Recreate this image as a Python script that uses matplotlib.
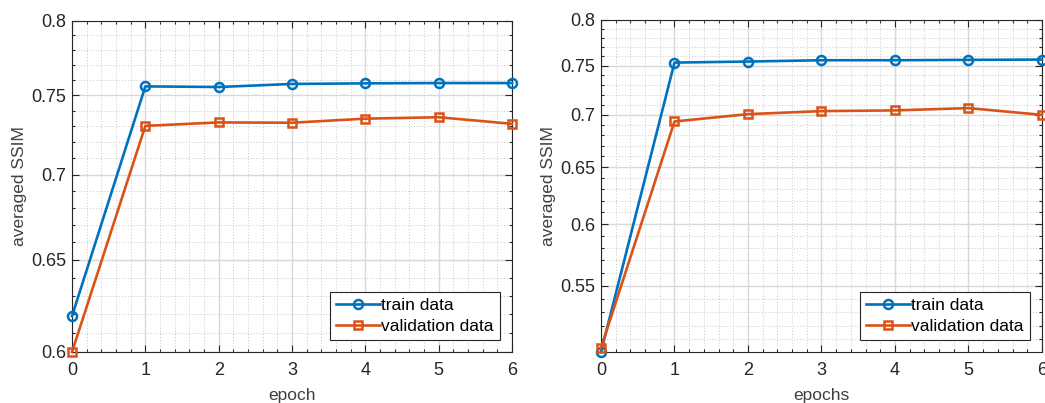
import numpy as np
import matplotlib.pyplot as plt
from matplotlib.ticker import FixedLocator, FixedFormatter, NullFormatter

plt.rcParams['font.family'] = ['Liberation Sans', 'DejaVu Sans']

# data
epochs = [0, 1, 2, 3, 4, 5, 6]

train_left = [0.619, 0.7558, 0.7554, 0.7574, 0.7578, 0.7580, 0.7580]
val_left = [0.600, 0.7303, 0.7325, 0.7323, 0.7349, 0.7358, 0.7316]

train_right = [0.501, 0.7533, 0.7544, 0.7558, 0.7558, 0.7562, 0.7565]
val_right = [0.5038, 0.6933, 0.7005, 0.7035, 0.7042, 0.7065, 0.6998]

blue = '#0072BD'
orange = '#D95319'
axcol = '#262626'


def draw(ax, train, val, ylim, yticks, xlabel):
    ax.plot(epochs, train, color=blue, lw=1.9, marker='o', ms=6.5, mfc='none',
            mew=1.8, label='train data', clip_on=False, zorder=3)
    ax.plot(epochs, val, color=orange, lw=1.9, marker='s', ms=6, mfc='none',
            mew=1.8, label='validation data', clip_on=False, zorder=3)
    ax.set_yscale('log')
    ax.set_ylim(*ylim)
    ax.set_xlim(0, 6)
    ax.yaxis.set_major_locator(FixedLocator(yticks))
    ax.yaxis.set_major_formatter(FixedFormatter([f'{t:g}' for t in yticks]))
    minors = [round(v, 2) for v in np.arange(0.5, 0.805, 0.01)]
    minors = [v for v in minors if v not in yticks]
    ax.yaxis.set_minor_locator(FixedLocator(minors))
    ax.yaxis.set_minor_formatter(NullFormatter())
    ax.set_xticks(epochs)
    ax.set_xticks(np.arange(0, 6.01, 0.2), minor=True)
    ax.grid(True, which='major', color='#d8d8d8', lw=1.0)
    ax.grid(True, which='minor', color='#c8c8c8', lw=0.7, ls=(0, (1, 2)))
    ax.set_axisbelow(True)
    ax.tick_params(which='both', direction='in', top=True, right=True,
                   colors=axcol, labelsize=13, width=0.8)
    ax.tick_params(which='major', length=5)
    ax.tick_params(which='minor', length=2.5)
    ax.tick_params(axis='y', pad=4)
    ax.tick_params(axis='x', pad=7)
    for s in ax.spines.values():
        s.set_color(axcol)
        s.set_linewidth(0.8)
    ax.set_xlabel(xlabel, fontsize=12.5, color='#404040', labelpad=7)
    ax.set_ylabel('averaged SSIM', fontsize=12.5, color='#404040', labelpad=3)
    leg = ax.legend(loc='lower right', fontsize=12.5, fancybox=False,
                    framealpha=1, edgecolor=axcol, handlelength=2.5,
                    handletextpad=0.1, borderpad=0.35, labelspacing=0.3,
                    borderaxespad=0.7)
    leg.get_frame().set_linewidth(0.8)


fig = plt.figure(figsize=(10.45, 4.03), dpi=100)
ax1 = fig.add_axes([0.0689, 0.1266, 0.4211, 0.8213])
ax2 = fig.add_axes([0.5751, 0.1266, 0.4220, 0.8240])

draw(ax1, train_left, val_left, (0.6, 0.8), [0.6, 0.65, 0.7, 0.75, 0.8], 'epoch')
draw(ax2, train_right, val_right, (0.501, 0.8), [0.55, 0.6, 0.65, 0.7, 0.75, 0.8], 'epochs')

fig.savefig('out.png', dpi=100)
